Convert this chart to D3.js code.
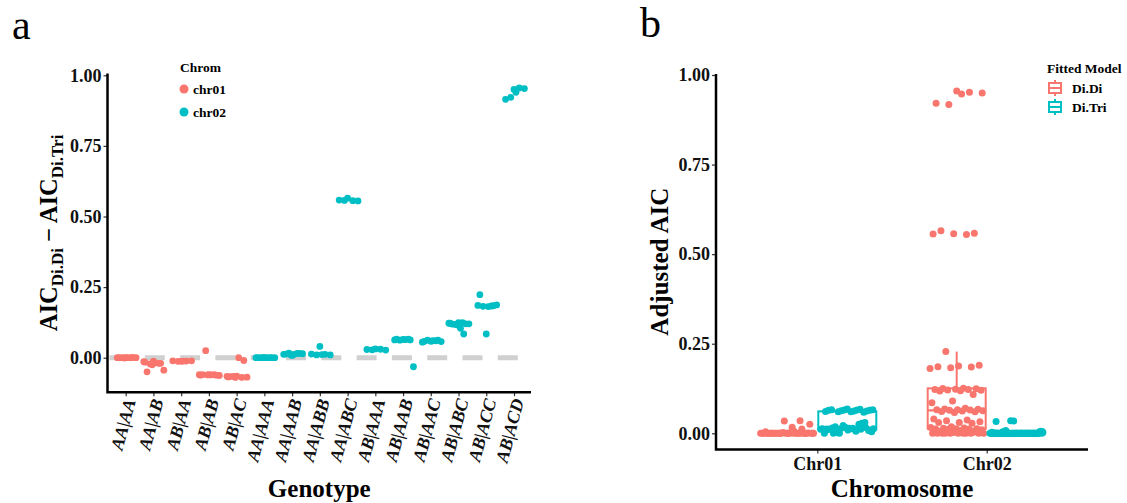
<!DOCTYPE html>
<html>
<head>
<meta charset="utf-8">
<script src="https://cdn.jsdelivr.net/npm/d3@7"></script>
<style>
  html, body { margin: 0; padding: 0; background: #fff; }
  svg { display: block; }
  text { font-family: "Liberation Serif", "DejaVu Serif", serif; }
</style>
</head>
<body>
<svg id="fig" width="1127" height="503"></svg>
<script>
// ---------- Panel a: AIC difference per genotype ----------
const genotypes = ["AA|AA","AA|AB","AB|AA","AB|AB","AB|AC","AA|AAA","AA|AAB","AA|ABB",
                   "AA|ABC","AB|AAA","AB|AAB","AB|AAC","AB|ABC","AB|ACC","AB|ACD"];
const genotypeChrom = ["chr01","chr01","chr01","chr01","chr01",
                       "chr02","chr02","chr02","chr02","chr02","chr02","chr02","chr02","chr02","chr02"];
const aicDiff = [
  [0, 0, 0, 0, 0, 0, 0, 0.001, -0.001],
  [-0.012, -0.016, -0.02, -0.022, -0.044, -0.018, -0.05, -0.02, -0.025, -0.014],
  [-0.013, -0.011, -0.012, -0.013, -0.011, -0.012],
  [-0.06, -0.062, -0.06, 0.025, -0.063, -0.061, -0.06, -0.062, -0.061, -0.06],
  [-0.065, -0.068, -0.07, -0.066, -0.069, 0, -0.067, -0.01, -0.07, -0.066],
  [0, 0, 0, 0, 0, 0, 0, 0, 0],
  [0.008, 0.012, 0.015, 0.016, 0.014, 0.012, 0.013, 0.015, 0.01],
  [0.04, 0.013, 0.012, 0.01, 0.01, 0.011],
  [0.565, 0.558, 0.556, 0.557, 0.555],
  [0.031, 0.029, 0.03, 0.028, 0.027],
  [0.065, 0.063, 0.066, 0.062, -0.032, 0.064, 0.066, 0.063],
  [0.058, 0.055, 0.06, 0.062, 0.057, 0.06, 0.058, 0.062],
  [0.124, 0.122, 0.084, 0.118, 0.12, 0.104, 0.119, 0.12, 0.116, 0.122, 0.124],
  [0.084, 0.185, 0.183, 0.182, 0.187, 0.181, 0.223, 0.184],
  [0.95, 0.915, 0.955, 0.922, 0.953, 0.94]
];
const chromLevels = ["chr01", "chr02"];
const yTicks = [0, 0.25, 0.5, 0.75, 1];

// ---------- Panel b: adjusted AIC per chromosome and fitted model ----------
const chromosomes = ["Chr01", "Chr02"];
const models = ["Di.Di", "Di.Tri"];
const adjChr01DiDi = [0, 0, 0.035, 0, 0, 0.017, 0, 0, 0.034, 0, 0, 0, 0.025, 0, 0, 0.012, 0, 0,
  0.006, 0, 0, 0, 0.004, 0, 0, 0, 0.003, 0, 0, 0.002, 0, 0, 0, 0.001, 0, 0, 0, 0, 0, 0, 0, 0];
const adjChr01DiTri = [0.068, 0.012, 0.067, 0, 0.066, 0.013, 0.066, 0.03, 0.065, 0.01, 0.065,
  0.002, 0.064, 0.014, 0.064, 0.028, 0.063, 0.011, 0.062, 0, 0.062, 0.015, 0.061, 0.025,
  0.06, 0.004, 0.06, 0.012, 0.059, 0.022, 0.013, 0.006, 0.018, 0.008, 0.009, 0.01, 0.011,
  0.012, 0.013, 0.014, 0.015, 0.016, 0.017, 0];
const adjChr02DiDi = [0.955, 0.921, 0.952, 0.918, 0.95, 0.947,
  0.565, 0.558, 0.557, 0.556, 0.555, 0.228,
  0.19, 0.188, 0.186, 0.185, 0.183, 0.181,
  0.126, 0.125, 0.124, 0.123, 0.122, 0.122, 0.121, 0.12, 0.119, 0.118,
  0.108, 0.09, 0.085,
  0.07, 0.068, 0.067, 0.066, 0.066, 0.065, 0.064, 0.063, 0.062, 0.061, 0.06, 0.058,
  0.04, 0.037, 0.035, 0.032, 0.03, 0.03, 0.028,
  0.018, 0.016, 0.015, 0.014, 0.013, 0.013, 0.012, 0.012, 0.011, 0.01,
  0.008, 0.005, 0.003, 0.002, 0, 0, 0, 0, 0, 0, 0, 0, 0, 0, 0];
const adjChr02DiTri = [0, 0.033, 0, 0, 0.005, 0, 0, 0, 0.034, 0, 0, 0.008, 0, 0, 0, 0, 0.035,
  0, 0, 0.004, 0, 0, 0, 0, 0, 0.006, 0, 0, 0, 0, 0.003, 0, 0, 0, 0, 0, 0, 0, 0.002, 0, 0, 0,
  0, 0, 0, 0, 0.005, 0, 0, 0, 0, 0, 0, 0, 0, 0, 0.001, 0, 0, 0, 0, 0, 0, 0, 0, 0, 0];

const palette = ["#F8766D", "#00BFC4"];
const svg = d3.select("#fig");
const FONT_TICK = 18, FONT_TITLE = 25;

// golden-ratio spread keeps overlapping points apart horizontally
const spread = i => ((i * 0.6180339887 + 0.5) % 1) - 0.5;

// ================= Panel a =================
const xA = d3.scalePoint().domain(genotypes).range([125.7, 514]);
const yA = d3.scaleLinear().domain([0, 1]).range([357.7, 75.3]);
const colA = d3.scaleOrdinal().domain(chromLevels).range(palette);
const aLeft = 107.5, aRight = 531, aTop = yA(1.006), aBottom = yA(-0.122);

const gA = svg.append("g");

// reference line at zero
gA.append("line")
  .attr("x1", aLeft + 2).attr("x2", aRight)
  .attr("y1", yA(0)).attr("y2", yA(0))
  .attr("stroke", "#d0d0d0").attr("stroke-width", 5)
  .attr("stroke-dasharray", "20,15.3");

// points
const ptsA = [];
genotypes.forEach((g, gi) => {
  aicDiff[gi].forEach((v, i) => ptsA.push({ g, chrom: genotypeChrom[gi], v, i }));
});
gA.append("g").selectAll("circle").data(ptsA).join("circle")
  .attr("cx", d => xA(d.g) + spread(d.i) * 22)
  .attr("cy", d => yA(d.v))
  .attr("r", 3.4)
  .attr("fill", d => colA(d.chrom));

// axes
const axAy = gA.append("g").attr("transform", `translate(${aLeft},0)`)
  .call(d3.axisLeft(yA).tickValues(yTicks).tickFormat(d3.format(".2f")).tickSize(4).tickPadding(2));
const axAx = gA.append("g").attr("transform", `translate(0,${aBottom})`)
  .call(d3.axisBottom(xA).tickSize(4).tickFormat(""));
[axAy, axAx].forEach(ax => {
  ax.select(".domain").remove();
  ax.selectAll(".tick line").attr("stroke", "#333").attr("stroke-width", 1.2);
});
axAy.selectAll(".tick text")
  .attr("font-size", FONT_TICK).attr("font-weight", "bold").attr("fill", "#111")
  .attr("font-family", "Liberation Serif, serif");
gA.append("path")
  .attr("d", `M${aLeft},${aTop}V${aBottom}H${aRight}`)
  .attr("fill", "none").attr("stroke", "#000").attr("stroke-width", 2.5);

// rotated genotype labels
gA.append("g").selectAll("text").data(genotypes).join("text")
  .attr("transform", d => `translate(${xA(d) + 4},${aBottom + 7}) rotate(-75)`)
  .attr("text-anchor", "end").attr("dy", "0.35em")
  .attr("font-size", FONT_TICK).attr("font-weight", "bold").attr("font-style", "italic")
  .attr("fill", "#111")
  .text(d => d);

gA.append("text").attr("x", (aLeft + aRight) / 2).attr("y", 497)
  .attr("text-anchor", "middle").attr("font-size", FONT_TITLE).attr("font-weight", "bold")
  .text("Genotype");

const yTitleA = gA.append("text")
  .attr("transform", `translate(57,${(aTop + aBottom) / 2}) rotate(-90)`)
  .attr("text-anchor", "middle").attr("font-weight", "bold").attr("font-size", 24.5);
yTitleA.append("tspan").text("AIC");
yTitleA.append("tspan").attr("font-size", 17).attr("dy", 6).text("Di.Di");
yTitleA.append("tspan").attr("dy", -6).text(" \u2212 AIC");
yTitleA.append("tspan").attr("font-size", 17).attr("dy", 6).text("Di.Tri");

// legend
const legA = gA.append("g");
legA.append("text").attr("x", 180).attr("y", 67).attr("dy", "0.35em")
  .attr("font-size", 13.5).attr("font-weight", "bold").text("Chrom");
chromLevels.forEach((c, i) => {
  const cy = 89 + i * 23;
  legA.append("circle").attr("cx", 184).attr("cy", cy).attr("r", 4.5).attr("fill", colA(c));
  legA.append("text").attr("x", 193).attr("y", cy).attr("dy", "0.35em")
    .attr("font-size", 13.5).attr("font-weight", "bold").text(c);
});

svg.append("text").attr("x", 12).attr("y", 39).attr("font-size", 42).text("a");

// ================= Panel b =================
const xB = d3.scalePoint().domain(chromosomes).range([817.3, 986.7]);
const xBm = d3.scaleBand().domain(models).range([-60, 60]).padding(0);
const yB = d3.scaleLinear().domain([0, 1]).range([433.3, 75]);
const colB = d3.scaleOrdinal().domain(models).range(palette);
const bLeft = 716, bRight = 1088, bTop = yB(1.003), bBottom = yB(-0.045);
const boxW = 58;

const groupsB = [
  { chrom: "Chr01", model: "Di.Di", values: adjChr01DiDi },
  { chrom: "Chr01", model: "Di.Tri", values: adjChr01DiTri },
  { chrom: "Chr02", model: "Di.Di", values: adjChr02DiDi },
  { chrom: "Chr02", model: "Di.Tri", values: adjChr02DiTri }
];
groupsB.forEach(gr => {
  const s = gr.values.slice().sort(d3.ascending);
  const q1 = d3.quantile(s, 0.25), med = d3.quantile(s, 0.5), q3 = d3.quantile(s, 0.75);
  const iqr = q3 - q1;
  gr.q1 = q1; gr.med = med; gr.q3 = q3;
  gr.lo = d3.min(s.filter(v => v >= q1 - 1.5 * iqr));
  gr.hi = d3.max(s.filter(v => v <= q3 + 1.5 * iqr));
  gr.cx = xB(gr.chrom) + xBm(gr.model) + xBm.bandwidth() / 2;
});

const gB = svg.append("g");
const boxes = gB.append("g").selectAll("g").data(groupsB).join("g")
  .attr("stroke", d => colB(d.model)).attr("stroke-width", 2).attr("fill", "none");
boxes.append("line")
  .attr("x1", d => d.cx).attr("x2", d => d.cx)
  .attr("y1", d => yB(d.hi)).attr("y2", d => yB(d.q3));
boxes.append("line")
  .attr("x1", d => d.cx).attr("x2", d => d.cx)
  .attr("y1", d => yB(d.q1)).attr("y2", d => yB(d.lo));
boxes.append("rect")
  .attr("x", d => d.cx - boxW / 2).attr("width", boxW)
  .attr("y", d => yB(d.q3)).attr("height", d => yB(d.q1) - yB(d.q3))
  .attr("fill", "#fff");
boxes.append("line")
  .attr("x1", d => d.cx - boxW / 2).attr("x2", d => d.cx + boxW / 2)
  .attr("y1", d => yB(d.med)).attr("y2", d => yB(d.med)).attr("stroke-width", 2.4);

const ptsB = [];
groupsB.forEach(gr => gr.values.forEach((v, i) => ptsB.push({ gr, v, i })));
gB.append("g").selectAll("circle").data(ptsB).join("circle")
  .attr("cx", d => d.gr.cx + spread(d.i) * 54)
  .attr("cy", d => yB(d.v))
  .attr("r", 3.5)
  .attr("fill", d => colB(d.gr.model));

const axBy = gB.append("g").attr("transform", `translate(${bLeft},0)`)
  .call(d3.axisLeft(yB).tickValues(yTicks).tickFormat(d3.format(".2f")).tickSize(4).tickPadding(2));
const axBx = gB.append("g").attr("transform", `translate(0,${bBottom})`)
  .call(d3.axisBottom(xB).tickSize(4).tickPadding(4));
[axBy, axBx].forEach(ax => {
  ax.select(".domain").remove();
  ax.selectAll(".tick line").attr("stroke", "#333").attr("stroke-width", 1.2);
  ax.selectAll(".tick text").attr("font-size", FONT_TICK).attr("font-weight", "bold")
    .attr("fill", "#111").attr("font-family", "Liberation Serif, serif");
});
gB.append("path")
  .attr("d", `M${bLeft},${bTop}V${bBottom}H${bRight}`)
  .attr("fill", "none").attr("stroke", "#000").attr("stroke-width", 2.5);

gB.append("text").attr("x", (bLeft + bRight) / 2).attr("y", 497)
  .attr("text-anchor", "middle").attr("font-size", FONT_TITLE).attr("font-weight", "bold")
  .text("Chromosome");
gB.append("text")
  .attr("transform", `translate(668,${(bTop + bBottom) / 2}) rotate(-90)`)
  .attr("text-anchor", "middle").attr("font-size", FONT_TITLE).attr("font-weight", "bold")
  .text("Adjusted AIC");

// legend with boxplot keys
const legB = gB.append("g");
legB.append("text").attr("x", 1047).attr("y", 68).attr("dy", "0.35em")
  .attr("font-size", 13.5).attr("font-weight", "bold").text("Fitted Model");
models.forEach((m, i) => {
  const cy = 88 + i * 19, kx = 1055;
  const k = legB.append("g").attr("stroke", colB(m)).attr("stroke-width", 2).attr("fill", "none");
  k.append("line").attr("x1", kx).attr("x2", kx).attr("y1", cy - 8).attr("y2", cy - 5);
  k.append("line").attr("x1", kx).attr("x2", kx).attr("y1", cy + 5).attr("y2", cy + 8);
  k.append("rect").attr("x", kx - 6).attr("y", cy - 5).attr("width", 12).attr("height", 10);
  k.append("line").attr("x1", kx - 6).attr("x2", kx + 6).attr("y1", cy).attr("y2", cy);
  legB.append("text").attr("x", 1072).attr("y", cy).attr("dy", "0.35em")
    .attr("font-size", 13.5).attr("font-weight", "bold").text(m);
});

svg.append("text").attr("x", 640).attr("y", 37).attr("font-size", 42).text("b");
</script>
</body>
</html>
